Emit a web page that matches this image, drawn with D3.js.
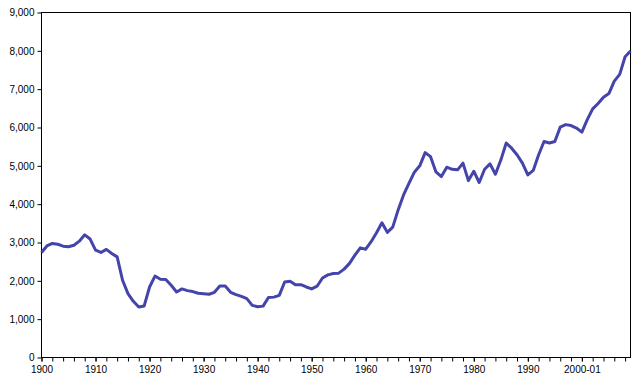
<!DOCTYPE html>
<html lang="en">
<head>
<meta charset="utf-8">
<title>Long series line chart</title>
<script src="https://cdn.jsdelivr.net/npm/d3@7"></script>
<style>
  body { margin: 0; background: #fff; }
  .axis text { font-family: "Liberation Sans", Arial, sans-serif; font-size: 10px; fill: #000; }
  .axis line { stroke: #000; }
  .axis path { display: none; }
</style>
</head>
<body>
<script>
  // yearly values, 1900 to 2009
  var firstYear = 1900;
  var values = [
    2740, 2910, 2975, 2955, 2905, 2890, 2930, 3035, 3200, 3090,   // 1900s
    2800, 2740, 2820, 2715, 2625, 2015, 1665, 1465, 1315, 1345,   // 1910s
    1840, 2125, 2040, 2035, 1885, 1710, 1790, 1745, 1720, 1675,   // 1920s
    1665, 1650, 1700, 1865, 1865, 1700, 1640, 1595, 1535, 1360,   // 1930s
    1325, 1340, 1565, 1575, 1620, 1970, 1990, 1895, 1900, 1840,   // 1940s
    1790, 1860, 2075, 2155, 2190, 2200, 2305, 2455, 2670, 2860,   // 1950s
    2825, 3020, 3255, 3515, 3265, 3400, 3850, 4240, 4545, 4835,   // 1960s
    5000, 5345, 5240, 4840, 4720, 4965, 4910, 4895, 5070, 4615,   // 1970s
    4860, 4565, 4910, 5050, 4780, 5150, 5595, 5460, 5290, 5070,   // 1980s
    4765, 4880, 5290, 5635, 5595, 5635, 6010, 6075, 6050, 5985,   // 1990s
    5880, 6205, 6485, 6625, 6790, 6885, 7210, 7385, 7845, 7995    // 2000s
  ];

  var yTicks = [0, 1000, 2000, 3000, 4000, 5000, 6000, 7000, 8000, 9000];
  var xLabelYears = [1900, 1910, 1920, 1930, 1940, 1950, 1960, 1970, 1980, 1990, 2000];
  var xLabels = ["1900", "1910", "1920", "1930", "1940", "1950", "1960", "1970", "1980", "1990", "2000-01"];

  var w = 644, h = 385;
  var pLeft = 41.5, pTop = 12.5, pRight = 630.5, pBottom = 357.5;
  var lastYear = firstYear + values.length - 1;

  var svg = d3.select("body").append("svg")
    .attr("width", w)
    .attr("height", h);

  var x = d3.scaleLinear().domain([firstYear, lastYear]).range([pLeft, pRight]);
  var y = d3.scaleLinear().domain([0, 9000]).range([pBottom, pTop]);

  // y axis
  svg.append("g")
    .attr("class", "axis")
    .attr("transform", "translate(" + pLeft + ",0)")
    .call(d3.axisLeft(y).tickValues(yTicks).tickFormat(d3.format(",")).tickSize(4).tickPadding(3));

  // minor x ticks every 2 years, no labels
  var minorYears = [];
  for (var yr = firstYear; yr < lastYear; yr += 2) minorYears.push(yr);
  svg.append("g")
    .attr("class", "axis")
    .attr("transform", "translate(0," + pBottom + ")")
    .call(d3.axisBottom(x).tickValues(minorYears).tickFormat("").tickSize(4));

  // x labels
  svg.append("g")
    .attr("class", "axis")
    .attr("transform", "translate(0," + pBottom + ")")
    .call(d3.axisBottom(x).tickValues(xLabelYears)
      .tickFormat(function(d, i) { return xLabels[i]; })
      .tickSize(4).tickPadding(4));

  // frame
  svg.append("rect")
    .attr("x", pLeft).attr("y", pTop)
    .attr("width", pRight - pLeft).attr("height", pBottom - pTop)
    .attr("fill", "none")
    .attr("stroke", "#000")
    .attr("stroke-width", 1);

  var line = d3.line()
    .x(function(d, i) { return x(firstYear + i); })
    .y(function(d) { return y(d); });

  svg.append("path")
    .datum(values)
    .attr("d", line)
    .attr("fill", "none")
    .attr("stroke", "#4444aa")
    .attr("stroke-width", 3)
    .attr("stroke-linejoin", "round");
</script>
</body>
</html>
